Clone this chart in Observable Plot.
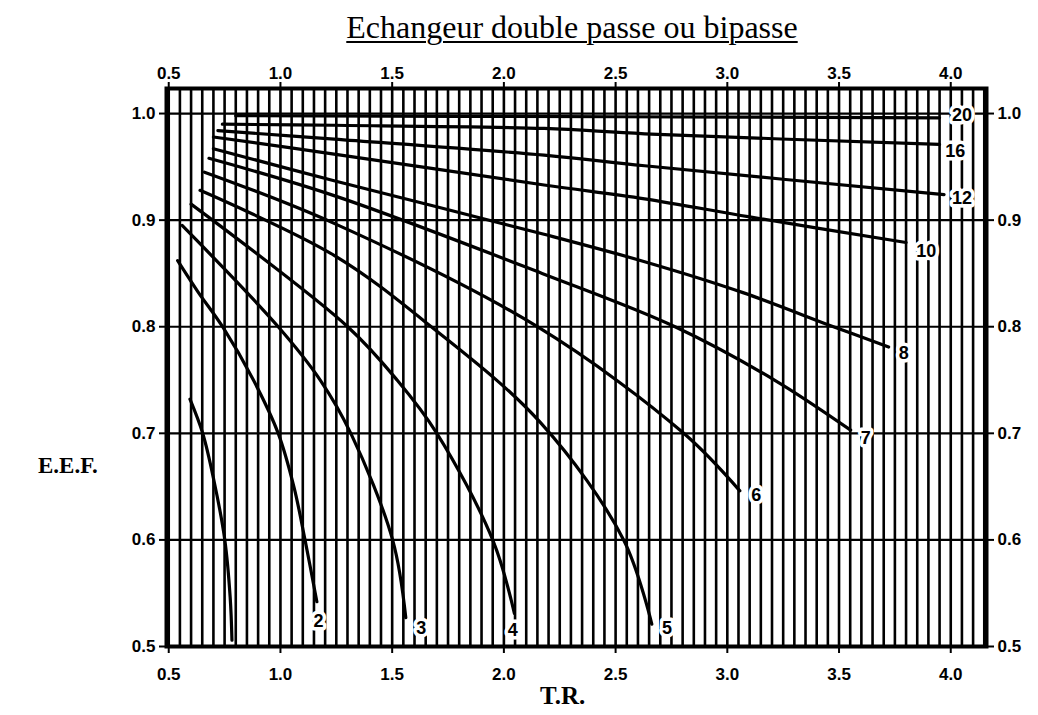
<!DOCTYPE html>
<html>
<head>
<meta charset="utf-8">
<script src="https://cdn.jsdelivr.net/npm/d3@7"></script>
<script src="https://cdn.jsdelivr.net/npm/@observablehq/plot@0.6"></script>
<style>
  body { margin: 0; background: #fff; }
  #wrap { position: relative; width: 1038px; height: 715px; overflow: hidden; }
  #title { position: absolute; left: 222px; width: 700px; top: 11px; text-align: center;
           font-family: "Liberation Serif", "Times New Roman", serif; font-size: 32px; line-height: 32px;
           color: #000; }
  #title span { text-decoration: underline; text-decoration-thickness: 1.5px; text-underline-offset: 3px; }
  .axlab { position: absolute; font-family: "Liberation Serif", "Times New Roman", serif; font-weight: bold; color: #000; }
  #ylab { left: 38px; top: 453px; font-size: 23px; }
  #xlab { left: 540px; top: 682px; font-size: 25px; }
  #chart { position: absolute; left: 0; top: 0; }
</style>
</head>
<body>
<div id="wrap">
  <div id="chart"></div>
  <div id="title"><span>Echangeur double passe ou bipasse</span></div>
  <div class="axlab" id="ylab">E.E.F.</div>
  <div class="axlab" id="xlab">T.R.</div>
</div>
<script>
// ---- data ----
const xTicks = [0.5, 1.0, 1.5, 2.0, 2.5, 3.0, 3.5, 4.0];
const yTicks = [0.5, 0.6, 0.7, 0.8, 0.9, 1.0];
const gridStepsX = d3.range(10, 84); // vertical rulings every 0.05 (index * 0.05)

const curveNames = ["1", "2", "3", "4", "5", "6", "7", "8", "10", "12", "16", "20"];
const curve1  = [[0.595,0.732],[0.652,0.700],[0.702,0.656],[0.751,0.600],[0.775,0.546],[0.783,0.506]];
const curve2  = [[0.540,0.862],[0.630,0.833],[0.741,0.800],[0.879,0.750],[0.990,0.700],[1.060,0.650],[1.110,0.600],[1.163,0.542]];
const curve3  = [[0.560,0.895],[0.990,0.800],[1.178,0.750],[1.315,0.700],[1.502,0.600],[1.561,0.527]];
const curve4  = [[0.600,0.915],[1.301,0.800],[1.522,0.750],[1.700,0.700],[1.950,0.600],[2.047,0.531]];
const curve5  = [[0.640,0.928],[1.240,0.867],[1.675,0.800],[2.164,0.710],[2.536,0.600],[2.662,0.521]];
const curve6  = [[0.660,0.945],[1.240,0.897],[2.150,0.800],[2.805,0.700],[3.056,0.646]];
const curve7  = [[0.680,0.958],[1.240,0.923],[2.171,0.850],[2.766,0.800],[3.211,0.750],[3.552,0.703]];
const curve8  = [[0.700,0.967],[1.240,0.937],[2.175,0.887],[2.630,0.861],[3.070,0.832],[3.475,0.800],[3.722,0.781]];
const curve10 = [[0.700,0.978],[1.240,0.962],[2.180,0.933],[2.630,0.920],[3.100,0.903],[3.800,0.879]];
const curve12 = [[0.720,0.984],[1.240,0.976],[2.180,0.961],[2.630,0.951],[3.970,0.924]];
const curve16 = [[0.740,0.990],[1.240,0.989],[2.180,0.986],[2.630,0.981],[3.950,0.971]];
const curve20 = [[0.800,0.998],[2.500,0.997],[3.950,0.996]];

const labelNames = ["2", "3", "4", "5", "6", "7", "8", "10", "12", "16", "20"];
const labelX = [1.17, 1.63, 2.04, 2.73, 3.13, 3.62, 3.79, 3.89, 4.05, 4.02, 4.05];
const labelY = [0.524, 0.517, 0.515, 0.517, 0.642, 0.695, 0.775, 0.871, 0.921, 0.965, 0.998];

// ---- build table ----
const curves = [curve1, curve2, curve3, curve4, curve5, curve6, curve7, curve8, curve10, curve12, curve16, curve20];
const rows = curves.flatMap((c, i) => c.map(([x, y]) => ({name: curveNames[i], x, y})));
const gridX = gridStepsX.map(i => +(i * 0.05).toFixed(2));
const labels = labelNames.map((t, i) => ({t, x: labelX[i], y: labelY[i]}));

const fmt = d => d.toFixed(1);
const axisCommon = {tickSize: 7, strokeWidth: 2, fontSize: 17, fontWeight: "bold", label: null, tickFormat: fmt};

const chart = Plot.plot({
  width: 1038, height: 715,
  marginLeft: 166, marginRight: 52, marginTop: 88, marginBottom: 69,
  x: {domain: [0.49, 4.16]},
  y: {domain: [0.5, 1.0235]},
  style: {fontFamily: "'Liberation Sans', Arial, sans-serif", background: "white", color: "black", overflow: "visible"},
  marks: [
    Plot.ruleX(gridX, {stroke: "black", strokeWidth: 2.6}),
    Plot.ruleY(yTicks, {stroke: "black", strokeWidth: 2.2}),
    Plot.line(rows, {x: "x", y: "y", z: "name", curve: "catmull-rom", stroke: "black", strokeWidth: 3.2}),
    Plot.text(labels, {x: "x", y: "y", text: "t", fill: "black", stroke: "white", strokeWidth: 7,
                       fontSize: 18, fontWeight: "bold", paintOrder: "stroke"}),
    Plot.frame({stroke: "black", strokeWidth: 4}),
    Plot.axisX(xTicks, {anchor: "top", tickPadding: 3, ...axisCommon}),
    Plot.axisX(xTicks, {anchor: "bottom", tickPadding: 14, ...axisCommon}),
    Plot.axisY(yTicks, {anchor: "left", tickPadding: 4, ...axisCommon}),
    Plot.axisY(yTicks, {anchor: "right", tickPadding: 4, ...axisCommon})
  ]
});
document.getElementById("chart").appendChild(chart);
</script>
</body>
</html>
